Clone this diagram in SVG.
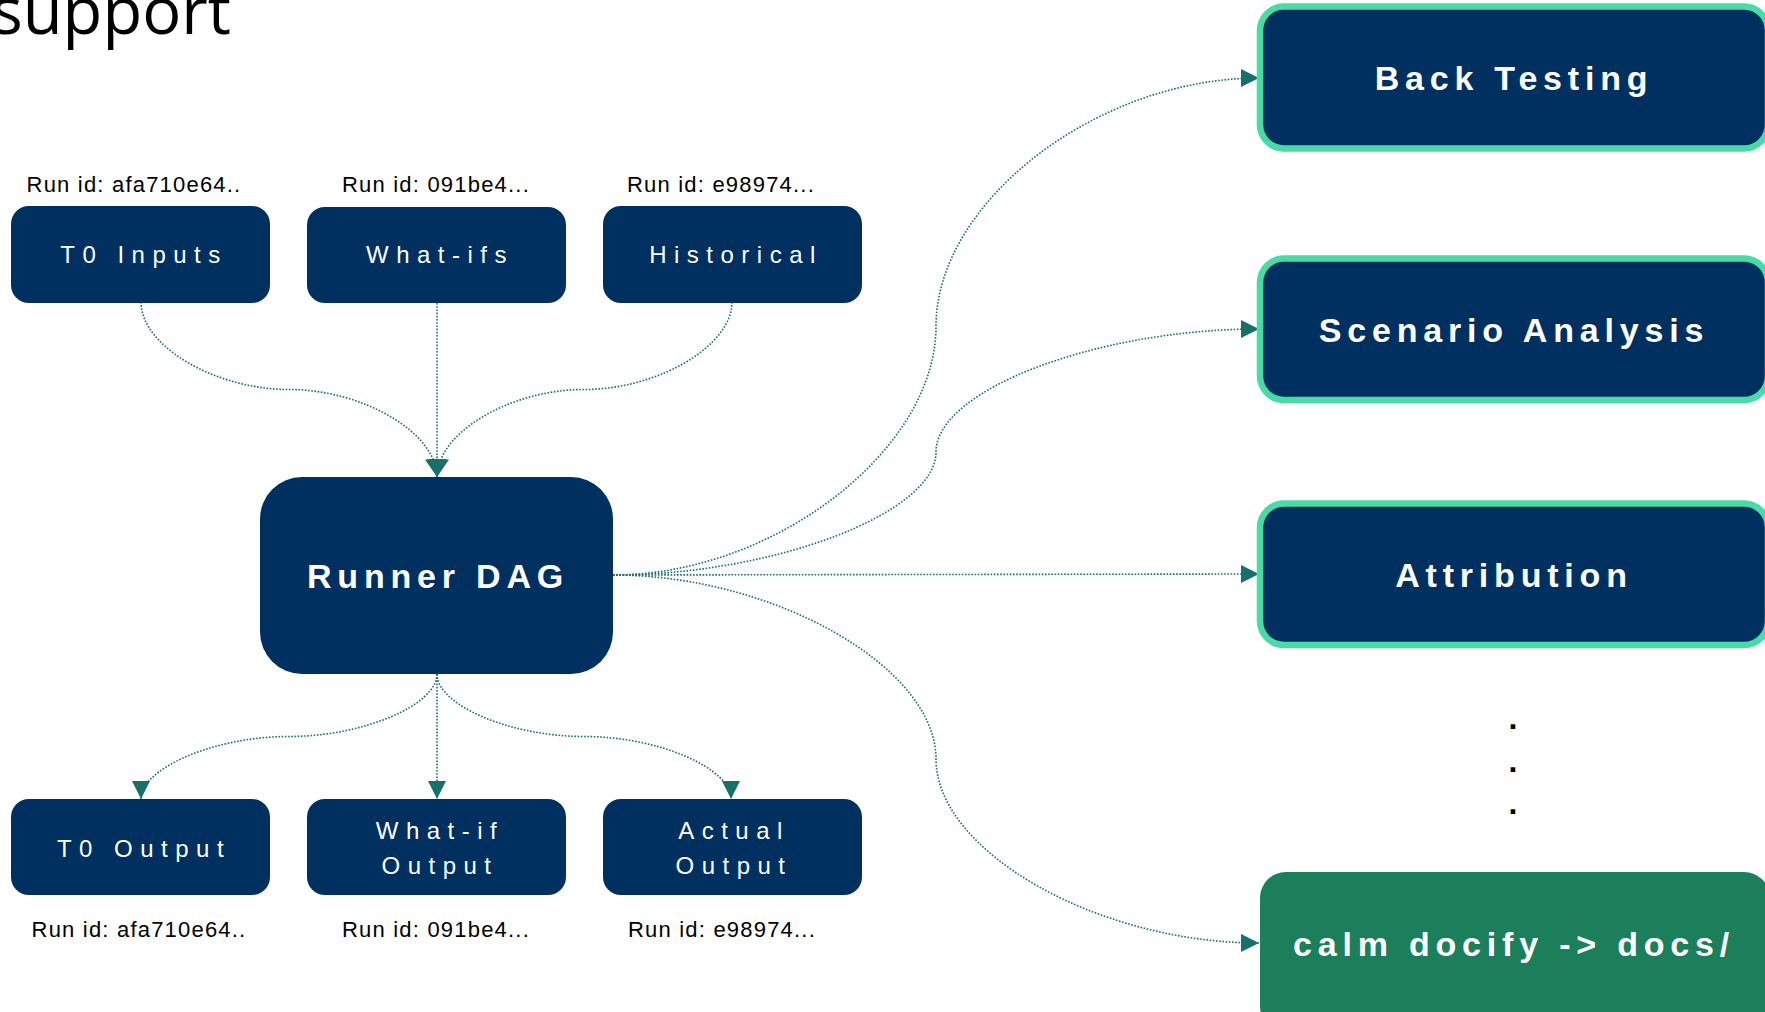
<svg xmlns="http://www.w3.org/2000/svg" width="1765" height="1012" viewBox="0 0 1765 1012">
<style>
.box{fill:#00305F;}
.rbox{fill:#00305F;stroke:#49DBA6;stroke-width:6.5;}
.dbox{fill:#1A7F5A;}
.lbl{font-family:"Liberation Sans",Arial,sans-serif;font-size:24px;fill:#FFFFFF;text-anchor:middle;letter-spacing:7.5px;}
.big{font-family:"Liberation Sans",Arial,sans-serif;font-size:34px;font-weight:bold;fill:#FFFFFF;text-anchor:middle;letter-spacing:5.8px;}
.rid{font-family:"Liberation Sans",Arial,sans-serif;font-size:22px;fill:#000000;text-anchor:middle;letter-spacing:1.2px;}
.con{fill:none;stroke:#1A706B;stroke-width:1.6;stroke-dasharray:1.6 1.6;marker-end:url(#ah);}
.dot{font-family:"Liberation Sans",Arial,sans-serif;font-size:32px;font-weight:bold;fill:#000000;text-anchor:middle;}
</style>
<defs>
<marker id="ah" markerUnits="userSpaceOnUse" markerWidth="18" markerHeight="18" viewBox="0 0 16 16" refX="16" refY="8" orient="auto">
<path d="M0,0 L16,8 L0,16 z" fill="#17706A"/>
</marker>
<marker id="ahb" markerUnits="userSpaceOnUse" markerWidth="22" markerHeight="24" viewBox="0 0 16 22" refX="16" refY="11" orient="auto">
<path d="M0,0 L16,11 L0,22 z" fill="#17706A"/>
</marker>
</defs>
<rect width="1765" height="1012" fill="#FFFFFF"/>
<text x="231" y="34" font-family="'Open Sans','Liberation Sans',sans-serif" font-size="65" text-anchor="end" fill="#000000">support</text>

<g id="connectors">
<path class="con" d="M141,302 C141,346 215,389.5 289,389.5 C363,389.5 437,433 437,477"/>
<path class="con" style="marker-end:url(#ahb)" d="M437,303 L437,477"/>
<path class="con" d="M732,302 C732,346 658,389.5 584,389.5 C510,389.5 437,433 437,477"/>
<path class="con" d="M437,674 C437,705 363,736.5 289,736.5 C215,736.5 141,768 141,799"/>
<path class="con" d="M437,674 L437,799"/>
<path class="con" d="M437,674 C437,705 510,736.5 584,736.5 C658,736.5 731,768 731,799"/>
<path class="con" d="M613,575 C774,575 936,450 936,326.5 C936,202 1097,78 1259,78"/>
<path class="con" d="M613,575 C774,575 936,513 936,452 C936,390 1097,329 1259,329"/>
<path class="con" d="M613,575 L1259,574"/>
<path class="con" d="M613,575 C774,575 936,667 936,759 C936,851 1097,943 1259,943"/>
</g>

<g id="t0-inputs">
<text class="rid" x="134" y="192">Run id: afa710e64..</text>
<rect class="box" x="11" y="206" width="259" height="97" rx="18"/>
<text class="lbl" x="144" y="263">T0 Inputs</text>
</g>
<g id="what-ifs">
<text class="rid" x="436" y="192">Run id: 091be4...</text>
<rect class="box" x="307" y="207" width="259" height="96" rx="18"/>
<text class="lbl" x="440" y="263">What-ifs</text>
</g>
<g id="historical">
<text class="rid" x="721" y="192">Run id: e98974...</text>
<rect class="box" x="603" y="206" width="259" height="97" rx="18"/>
<text class="lbl" x="736" y="263">Historical</text>
</g>

<g id="runner-dag">
<rect class="box" x="260" y="477" width="353" height="197" rx="42"/>
<text class="big" x="438" y="588">Runner DAG</text>
</g>

<g id="t0-output">
<rect class="box" x="11" y="799" width="259" height="96" rx="18"/>
<text class="lbl" x="144" y="857">T0 Output</text>
<text class="rid" x="139" y="937">Run id: afa710e64..</text>
</g>
<g id="what-if-output">
<rect class="box" x="307" y="799" width="259" height="96" rx="18"/>
<text class="lbl" x="440" y="839">What-if</text>
<text class="lbl" x="440" y="874">Output</text>
<text class="rid" x="436" y="937">Run id: 091be4...</text>
</g>
<g id="actual-output">
<rect class="box" x="603" y="799" width="259" height="96" rx="18"/>
<text class="lbl" x="734" y="839">Actual</text>
<text class="lbl" x="734" y="874">Output</text>
<text class="rid" x="722" y="937">Run id: e98974...</text>
</g>

<g id="back-testing">
<rect class="rbox" x="1260" y="6.5" width="508" height="142" rx="24"/>
<text class="big" x="1514" y="90">Back Testing</text>
</g>
<g id="scenario-analysis">
<rect class="rbox" x="1260" y="258.5" width="508" height="141.5" rx="24"/>
<text class="big" x="1514" y="342">Scenario Analysis</text>
</g>
<g id="attribution">
<rect class="rbox" x="1260" y="503.5" width="508" height="141.5" rx="24"/>
<text class="big" x="1514" y="587">Attribution</text>
</g>
<g id="more">
<text class="dot" x="1513" y="729">.</text>
<text class="dot" x="1513" y="772">.</text>
<text class="dot" x="1513" y="814">.</text>
</g>
<g id="calm-docify">
<rect class="dbox" x="1260" y="872" width="510" height="160" rx="26"/>
<text class="big" x="1514" y="956">calm docify -&gt; docs/</text>
</g>
</svg>
